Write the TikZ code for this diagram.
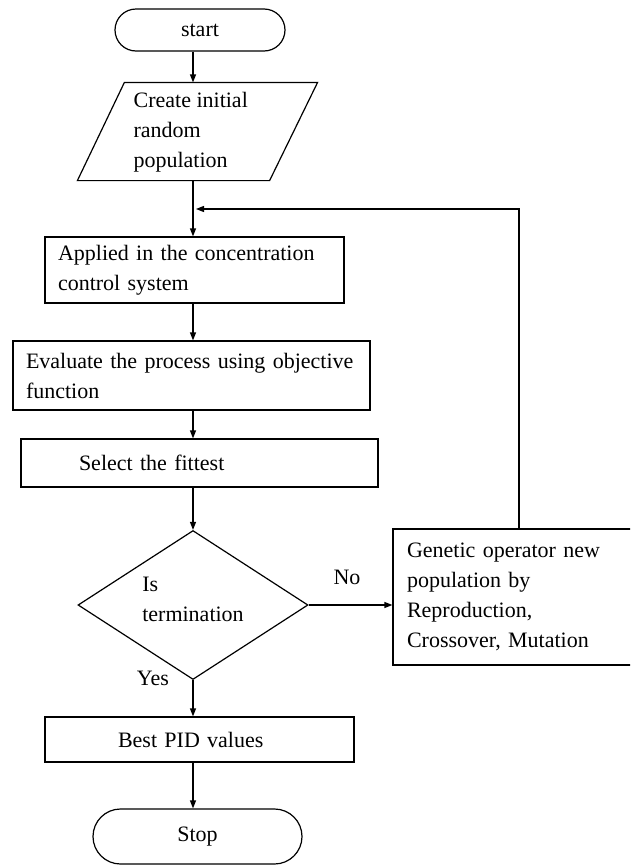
\documentclass[tikz,border=0pt]{standalone}
\usepackage{fontspec}
\setmainfont{Liberation Serif}
\usetikzlibrary{shapes.geometric,arrows.meta}

\begin{document}
\begin{tikzpicture}[x=1pt,y=-1pt,line width=1.2pt,
    font=\fontsize{22}{30}\selectfont,
    arr/.style={-{Triangle[length=8pt,width=6pt]}},
    procbox/.style={draw,rectangle,align=left,inner ysep=0pt},
    termbox/.style={draw,rectangle,inner sep=0pt}]
    \clip (0,0) rectangle (630,865);
    \useasboundingbox (0,0) rectangle (630,865);
    \coordinate (mainx) at (193,0);
    % Start
    \node[termbox,rounded corners=21pt,minimum width=170pt,minimum height=42pt] (start) at (200,30) {start};
    % Initial population
    \node[minimum width=239pt,minimum height=97pt,inner sep=0pt] (init) at (197.5,131.5) {};
    \draw ([xshift=47pt]init.north west) -- (init.north east) -- ([xshift=-48pt]init.south east) -- (init.south west) -- cycle;
    \node[anchor=west,align=left,inner sep=0pt] (inittxt) at (133,132) {Create initial\\random\\population};
    % Process boxes
    \node[procbox,minimum width=299pt,minimum height=66pt,text width=273pt,inner xsep=13pt] (apply) at (194.5,270) {Applied in the concentration\\control system};
    \node[procbox,minimum width=357pt,minimum height=69pt,text width=331pt,inner xsep=13pt] (eval) at (191.5,375.5) {Evaluate the process using objective\\function};
    \node[procbox,minimum width=357pt,minimum height=48pt,text width=241pt,inner xsep=58pt] (select) at (199.5,463) {Select the fittest};
    % Decision
    \node[draw,diamond,aspect=1.54,minimum width=230pt,minimum height=149pt,inner sep=0pt] (check) at (193,605) {};
    \node[align=left,inner sep=0pt] (checktxt) at (193,599) {Is\\termination};
    \node (lblno) at (347,577) {No};
    \node (lblyes) at (153,678) {Yes};
    % Genetic operator
    \node[procbox,minimum width=243pt,minimum height=136pt,text width=215pt,inner xsep=14pt] (gen) at (514.5,597) {Genetic operator new\\population by\\Reproduction,\\Crossover, Mutation};
    % Result and stop
    \node[procbox,minimum width=309pt,minimum height=45pt,text width=163pt,inner xsep=73pt] (best) at (199.5,739.5) {Best PID values};
    \node[termbox,rounded corners=27.5pt,minimum width=209pt,minimum height=55pt] (stop) at (197.5,836.5) {Stop};
    % Main flow
    \draw[arr] (start.south -| mainx) -- (init.north -| mainx);
    \draw[arr] (init.south -| mainx) -- (apply.north -| mainx);
    \draw[arr] (apply.south -| mainx) -- (eval.north -| mainx);
    \draw[arr] (eval.south -| mainx) -- (select.north -| mainx);
    \draw[arr] (select.south -| mainx) -- (check.north);
    \draw[arr] (check.south) -- (best.north -| check.south);
    \draw[arr] (best.south -| mainx) -- (stop.north -| mainx);
    % No branch and feedback
    \draw[arr] (check.east) -- (gen.west |- check.east);
    \coordinate (fbtop) at (519,209);
    \draw[arr] (gen.north -| fbtop) -- (fbtop) -- ([xshift=3pt]fbtop -| mainx);
\end{tikzpicture}
\end{document}
